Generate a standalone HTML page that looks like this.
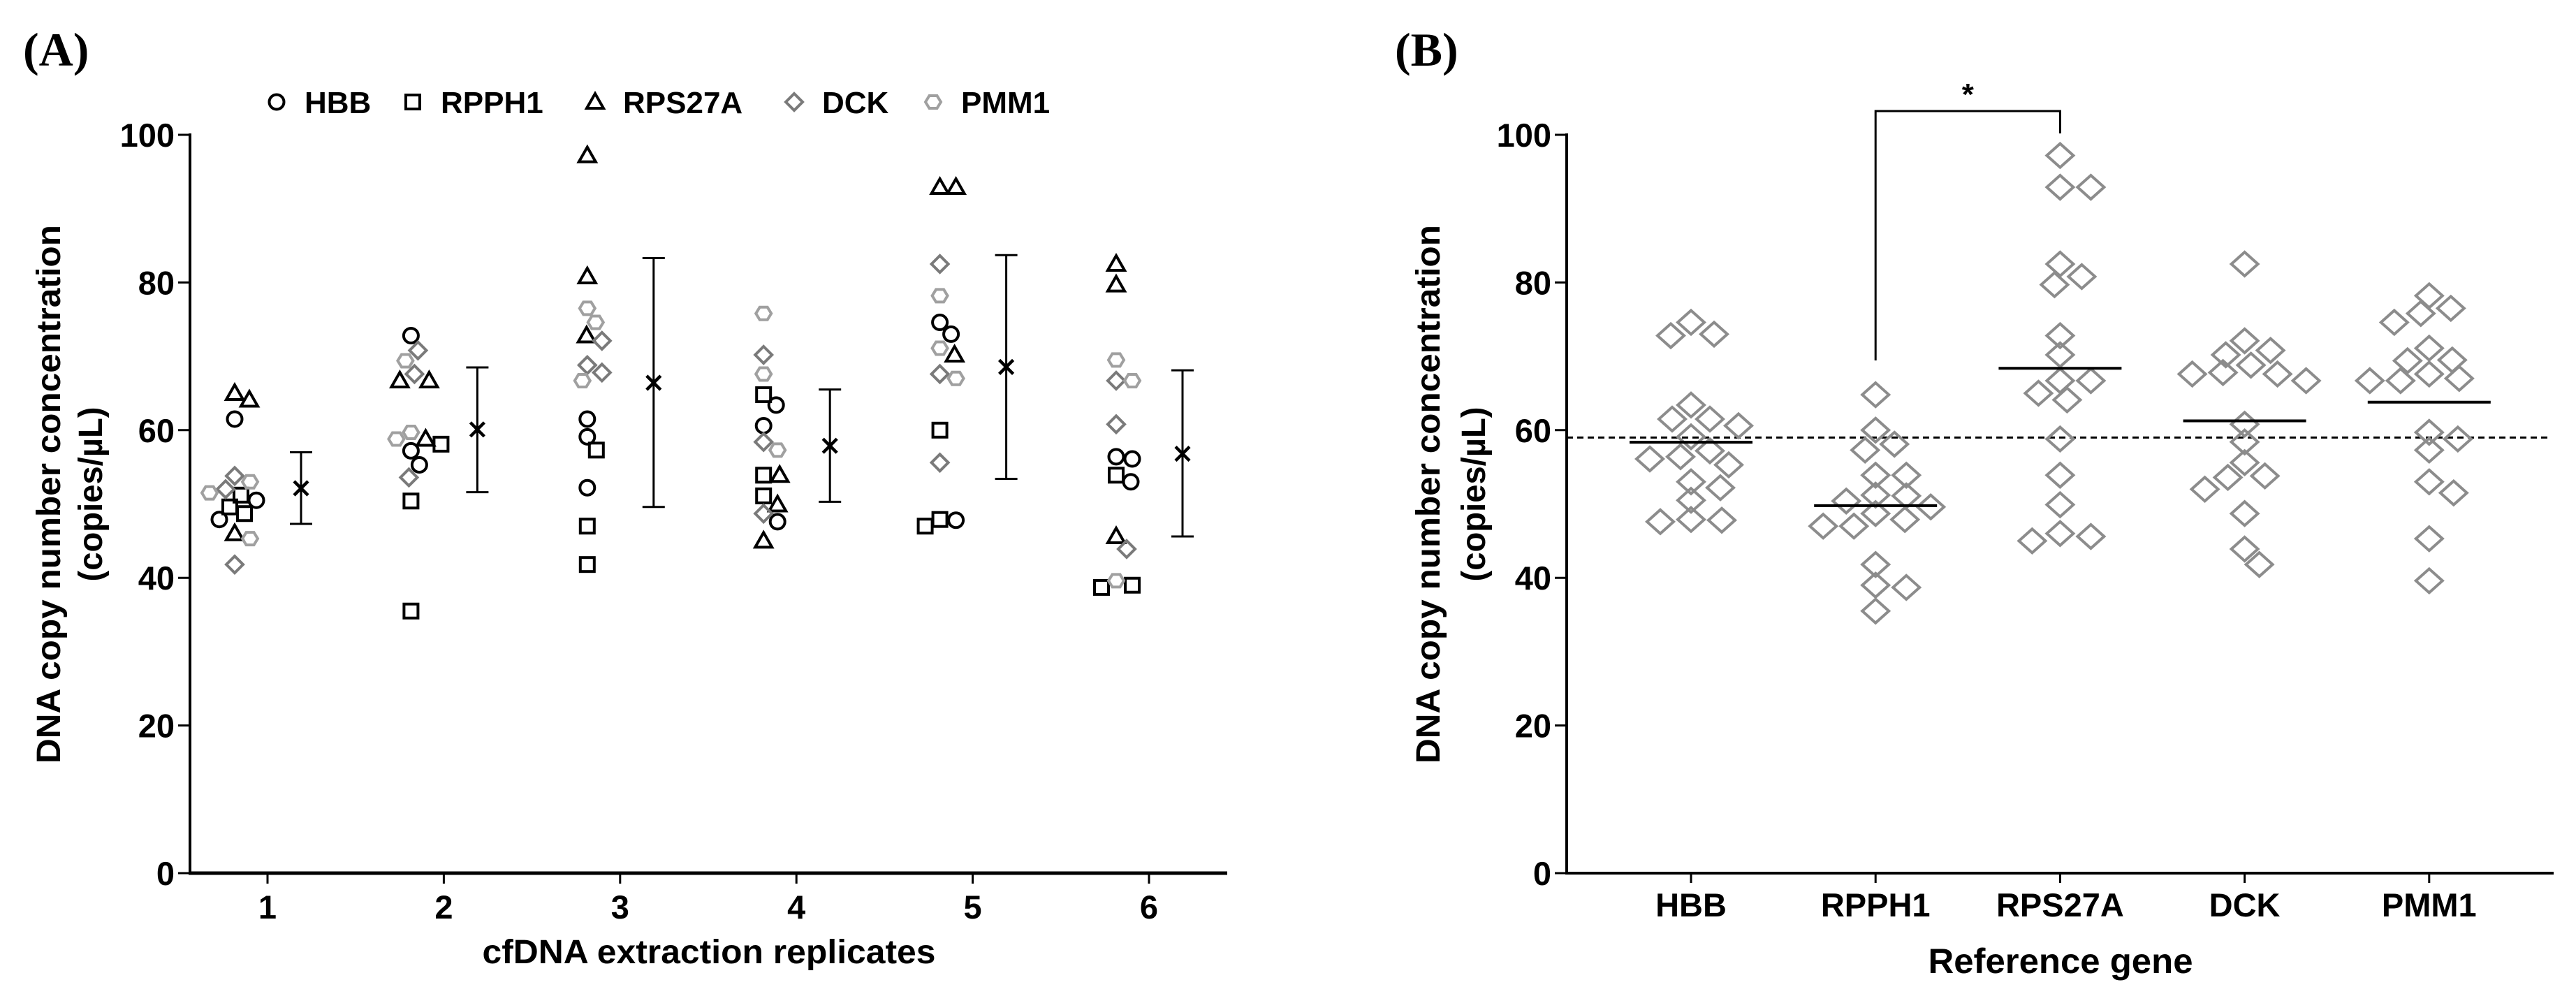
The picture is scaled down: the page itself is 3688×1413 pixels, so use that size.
<!DOCTYPE html>
<html><head><meta charset="utf-8"><style>
html,body{margin:0;padding:0;background:#fff;}
svg{display:block;}
text{font-family:"Liberation Sans",Arial,sans-serif;font-weight:bold;fill:#000;}
.serif{font-family:"Liberation Serif",serif;}
</style></head><body>
<svg id="fig" width="3688" height="1413" viewBox="0 0 3688 1413" xmlns="http://www.w3.org/2000/svg">
<g id="A"></g>
<g id="B"></g>
</svg>
<script>
// ---- data ----
const replicates = ["1","2","3","4","5","6"];
const genes = ["HBB","RPPH1","RPS27A","DCK","PMM1"];
const hbb    = [[50.5,47.9,61.5],[72.8,57.2,55.3],[61.5,59.1,52.2],[63.4,60.6,47.6],[73,74.6,47.8],[56.1,56.4,53]];
const rpph1  = [[48.7,49.6,51.2],[50.4,35.5,58.1],[57.3,47,41.8],[64.8,53.9,51.1],[60,47.9,47],[53.9,39,38.7]];
const rps27a = [[64.1,65,46],[66.7,66.7,58.8],[97.2,80.8,72.8],[53.9,49.9,45],[92.9,92.9,70.2],[82.5,79.7,45.6]];
const dck    = [[53.8,41.8,52],[70.8,67.6,53.6],[72.1,68.8,67.8],[70.2,58.4,48.7],[82.5,67.6,55.6],[66.7,60.8,43.9]];
const pmm1   = [[53,45.3,51.5],[69.4,59.7,58.8],[74.6,76.5,66.7],[75.8,67.6,57.3],[78.2,71.1,67],[69.5,66.7,39.6]];
const errLow  = [47.3,51.6,49.6,50.3,53.4,45.6];
const errHigh = [57.0,68.5,83.3,65.5,83.7,68.1];
const refLine = 59;
const yTicks = [0,20,40,60,80,100];
const yTickLabels = ["0","20","40","60","80","100"];

const NS="http://www.w3.org/2000/svg";
function mk(tag, attrs, parent){const e=document.createElementNS(NS,tag);for(const k in attrs)e.setAttribute(k,attrs[k]);parent.appendChild(e);return e;}
const gA=document.getElementById('A'), gB=document.getElementById('B');
const seriesList=[hbb,rpph1,rps27a,dck,pmm1];
const symTypes=["circle","square","triangle","diamond","hexagon"];
const symColors=["#000","#000","#000","#7a7a7a","#a0a0a0"];

const y0=1250, yPer=10.57;
function yv(v){return y0 - v*yPer;}
function xA(i){return 383 + i*252.4;}
function xB(j){return 2421 + j*264.2;}

function drawSym(parent,type,x,y,color,sw){
  let e;
  if(type==="circle") e=mk('circle',{cx:x,cy:y,r:10.5,fill:'none',stroke:color,'stroke-width':sw},parent);
  else if(type==="square") e=mk('rect',{x:x-10,y:y-10,width:20,height:20,fill:'none',stroke:color,'stroke-width':sw},parent);
  else if(type==="triangle") e=mk('polygon',{points:`${x},${y-12} ${x+12},${y+9} ${x-12},${y+9}`,fill:'none',stroke:color,'stroke-width':sw},parent);
  else if(type==="diamond") e=mk('polygon',{points:`${x},${y-12} ${x+12},${y} ${x},${y+12} ${x-12},${y}`,fill:'none',stroke:color,'stroke-width':sw},parent);
  else { e=mk('polygon',{points:`${x-11},${y} ${x-5.5},${y-9} ${x+5.5},${y-9} ${x+11},${y} ${x+5.5},${y+9} ${x-5.5},${y+9}`,fill:'none',stroke:color,'stroke-width':sw},parent);}
  return e;
}
function swarm(ys, wx, wy){
  const order=ys.map((y,i)=>i).sort((a,b)=>ys[a]-ys[b]);
  const off=new Array(ys.length).fill(0); const placed=[];
  for(const i of order){
    for(let k=0;k<400;k++){
      const cands=k===0?[0]:[k,-k];
      let ok=null;
      for(const c of cands){
        let hit=false;
        for(const p of placed){const dx=(c-off[p])/wx, dy=(ys[i]-ys[p])/wy; if(dx*dx+dy*dy<1){hit=true;break;}}
        if(!hit){ok=c;break;}
      }
      if(ok!==null){off[i]=ok;break;}
    }
    placed.push(i);
  }
  return off;
}

function yAxis(parent,axX,title1,title2,t1x,t2x,name){
  const ax=mk('line',{x1:axX,y1:yv(100)-2,x2:axX,y2:y0,stroke:'#000','stroke-width':4},parent);
   
  yTicks.forEach((t,i)=>{
    const tk=mk('line',{x1:axX-17,y1:yv(t),x2:axX,y2:yv(t),stroke:'#000','stroke-width':3},parent);
     
    const lb=mk('text',{x:axX-22,y:yv(t)+17,'text-anchor':'end','font-size':47},parent);
    lb.textContent=yTickLabels[i];
     
  });
  const cy=(yv(100)+y0)/2-14;
  const a=mk('text',{x:0,y:0,'text-anchor':'middle','font-size':48,textLength:771,lengthAdjust:'spacingAndGlyphs',transform:`translate(${t1x},${cy}) rotate(-90)`},parent);
  a.textContent=title1;  
  const b=mk('text',{x:0,y:0,'text-anchor':'middle','font-size':48,textLength:250,lengthAdjust:'spacingAndGlyphs',transform:`translate(${t2x},${cy}) rotate(-90)`},parent);
  b.textContent=title2;  
}

// ---------- Panel A ----------
(function(){
  const lab=mk('text',{x:33,y:94,'font-size':68,class:'serif'},gA); lab.textContent="(A)";
   
  yAxis(gA,272,"DNA copy number concentration","(copies/µL)",86,146,'panel-a');
  const xa=mk('line',{x1:270,y1:y0,x2:1757,y2:y0,stroke:'#000','stroke-width':5},gA);
   
  replicates.forEach((r,i)=>{
    const tk=mk('line',{x1:xA(i),y1:y0,x2:xA(i),y2:y0+15,stroke:'#000','stroke-width':3},gA);
     
    const t=mk('text',{x:xA(i),y:1315,'text-anchor':'middle','font-size':47},gA); t.textContent=r;
     
  });
  const xt=mk('text',{x:1015,y:1379,'text-anchor':'middle','font-size':48,textLength:649,lengthAdjust:'spacingAndGlyphs'},gA);
  xt.textContent="cfDNA extraction replicates";
   
  const legX=[396,591,852,1137,1336];
  genes.forEach((g,k)=>{
    const s=drawSym(gA,symTypes[k],legX[k],146,symColors[k],4);
     
    const t=mk('text',{x:legX[k]+40,y:162,'font-size':44},gA); t.textContent=g;
     
  });
  replicates.forEach((r,i)=>{
    const pts=[];
    seriesList.forEach((s,k)=>s[i].forEach(v=>pts.push({k,v})));
    const ys=pts.map(p=>yv(p.v));
    const off=swarm(ys,23,23);
    const cx=xA(i)-47;
    pts.forEach((p,j)=>{
      const e=drawSym(gA,symTypes[p.k],cx+off[j],ys[j],symColors[p.k],4);
       
    });
    const mean=pts.reduce((a,p)=>a+p.v,0)/pts.length;
    const ex=xA(i)+48;
    const eb=mk('g',{},gA);  
    mk('line',{x1:ex,y1:yv(errHigh[i]),x2:ex,y2:yv(errLow[i]),stroke:'#000','stroke-width':3},eb);
    mk('line',{x1:ex-16,y1:yv(errHigh[i]),x2:ex+16,y2:yv(errHigh[i]),stroke:'#000','stroke-width':3},eb);
    mk('line',{x1:ex-16,y1:yv(errLow[i]),x2:ex+16,y2:yv(errLow[i]),stroke:'#000','stroke-width':3},eb);
    const my=yv(mean);
    const xm=mk('path',{d:`M${ex-10},${my-10}L${ex+10},${my+10}M${ex+10},${my-10}L${ex-10},${my+10}`,stroke:'#000','stroke-width':4.5},gA);
     
  });
})();

// ---------- Panel B ----------
(function(){
  const lab=mk('text',{x:1997,y:94,'font-size':68,class:'serif'},gB); lab.textContent="(B)";
   
  yAxis(gB,2243,"DNA copy number concentration","(copies/µL)",2061,2126,'panel-b');
  const xa=mk('line',{x1:2241,y1:y0,x2:3656,y2:y0,stroke:'#000','stroke-width':4},gB);
   
  const dl=mk('line',{x1:2243,y1:yv(refLine),x2:3652,y2:yv(refLine),stroke:'#000','stroke-width':3,'stroke-dasharray':'9 6'},gB);
   
  genes.forEach((g,j)=>{
    const tk=mk('line',{x1:xB(j),y1:y0,x2:xB(j),y2:y0+14,stroke:'#000','stroke-width':3},gB);
     
    const t=mk('text',{x:xB(j),y:1312,'text-anchor':'middle','font-size':47},gB); t.textContent=g;
     
    const vals=[].concat(...seriesList[j]);
    const ys=vals.map(v=>yv(v));
    const off=swarm(ys,44,25);
    vals.forEach((v,k)=>{
      const x=xB(j)+off[k], y=ys[k];
      const e=mk('polygon',{points:`${x},${y-17} ${x+19},${y} ${x},${y+17} ${x-19},${y}`,fill:'none',stroke:'#8c8c8c','stroke-width':4},gB);
       
    });
    const mean=vals.reduce((a,b)=>a+b,0)/vals.length;
    const ml=mk('line',{x1:xB(j)-88,y1:yv(mean),x2:xB(j)+88,y2:yv(mean),stroke:'#000','stroke-width':4},gB);
     
  });
  const xt=mk('text',{x:2950,y:1393,'text-anchor':'middle','font-size':50,textLength:379,lengthAdjust:'spacingAndGlyphs'},gB);
  xt.textContent="Reference gene";
   
  const br=mk('path',{d:`M${xB(1)},516 L${xB(1)},159 L${xB(2)},159 L${xB(2)},191`,fill:'none',stroke:'#000','stroke-width':3},gB);
   
  const st=mk('text',{x:(xB(1)+xB(2))/2,y:150,'text-anchor':'middle','font-size':44},gB); st.textContent="*";
   
})();
</script>
</body></html>
